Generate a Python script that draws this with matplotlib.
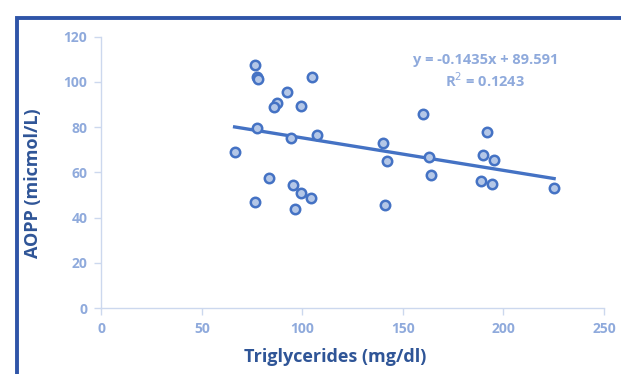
import numpy as np
import matplotlib
matplotlib.use('Agg')
import matplotlib.pyplot as plt
from matplotlib.patches import Rectangle

plt.rcParams['font.family'] = ['Open Sans', 'DejaVu Sans']

# triglycerides (mg/dl) vs AOPP (micmol/L)
tg = [76.2, 77.4, 78.1, 104.9, 92.5, 87.2, 85.8, 99.2, 160.2, 77.6,
      94.1, 107.3, 191.7, 66.3, 140.0, 142.3, 163.0, 190.0, 195.1, 164.2,
      83.3, 95.1, 99.2, 104.5, 76.4, 96.3, 141.1, 188.8, 194.1, 225.2]
aopp = [107.3, 102.3, 101.1, 102.2, 95.7, 90.8, 89.0, 89.2, 85.9, 79.4,
        75.3, 76.4, 77.9, 69.1, 72.8, 65.0, 66.6, 67.8, 65.6, 59.0,
        57.4, 54.5, 50.9, 48.8, 46.9, 43.8, 45.5, 56.4, 55.0, 53.1]
slope = -0.1435
icept = 89.591
r2 = 0.1243

xticks = [0, 50, 100, 150, 200, 250]
yticks = [0, 20, 40, 60, 80, 100, 120]

tick_col = '#8FAADC'
lab_col = '#2F5597'
spine_col = '#CCD8EE'

fig = plt.figure(figsize=(6.21, 3.74), dpi=100)
ax = fig.add_axes([0.1631, 0.1757, 0.8095, 0.7267])

ax.scatter(tg, aopp, s=46, facecolor='#B4C7E7', edgecolor='#4472C4',
           linewidth=1.8, zorder=3)

xs = np.array([min(tg), max(tg)])
ax.plot(xs, slope * xs + icept, color='#4472C4', lw=2.4, zorder=2)

ax.text(191, 109.5, f'y = {slope}x + {icept}', ha='center', va='center',
        color=tick_col, fontsize=10.5, fontweight='bold')
ax.text(191, 100.6, f'R$^2$ = {r2}', ha='center', va='center',
        color=tick_col, fontsize=10.5, fontweight='bold')

ax.set_xlim(0, 250)
ax.set_ylim(0, 120)
ax.set_xticks(xticks)
ax.set_yticks(yticks)
for s in ['top', 'right']:
    ax.spines[s].set_visible(False)
for s in ['left', 'bottom']:
    ax.spines[s].set_color(spine_col)
    ax.spines[s].set_linewidth(1.0)
ax.tick_params(colors=spine_col, length=5, width=1.0, labelsize=10,
               labelcolor=tick_col, pad=5)
for lb in ax.get_xticklabels() + ax.get_yticklabels():
    lb.set_fontweight('bold')

ax.set_xlabel('Triglycerides (mg/dl)', color=lab_col, fontsize=13,
              fontweight='bold')
ax.set_ylabel('AOPP (micmol/L)', color=lab_col, fontsize=13,
              fontweight='bold')
ax.xaxis.set_label_coords(0.465, -0.145)
ax.yaxis.set_label_coords(-0.118, 0.459)

# outer frame, partly cut off at the right and bottom
fig.patches.append(Rectangle((16.5 / 621, -0.1), 1.2, 1 - 17.5 / 374 + 0.1,
                             transform=fig.transFigure, fill=False,
                             edgecolor='#2F55A8', linewidth=2.8))

fig.savefig('out.png', dpi=100)
